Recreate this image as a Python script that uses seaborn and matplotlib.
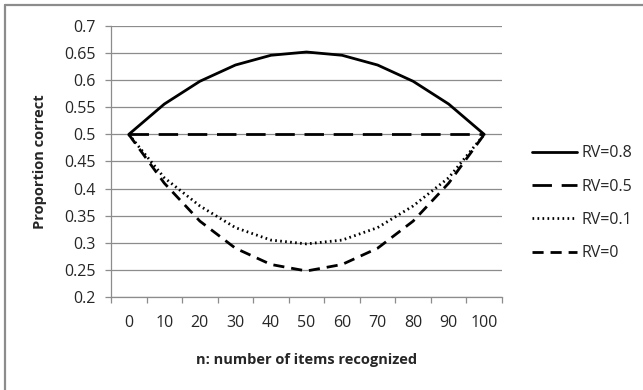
import pandas as pd
import numpy as np
import matplotlib.pyplot as plt
import seaborn as sns
from matplotlib.lines import Line2D

# items recognized (x categories)
n_items = [0, 10, 20, 30, 40, 50, 60, 70, 80, 90, 100]

# proportion correct
rv_08 = [0.5, 0.556, 0.598, 0.628, 0.646, 0.652, 0.646, 0.628, 0.598, 0.556, 0.5]
rv_05 = [0.5, 0.5, 0.5, 0.5, 0.5, 0.5, 0.5, 0.5, 0.5, 0.5, 0.5]
rv_01 = [0.5, 0.42, 0.368, 0.328, 0.305, 0.298, 0.305, 0.328, 0.368, 0.42, 0.5]
rv_00 = [0.5, 0.41, 0.34, 0.29, 0.26, 0.248, 0.26, 0.29, 0.34, 0.41, 0.5]

series_names = ['RV=0.8', 'RV=0.5', 'RV=0.1', 'RV=0']
y_ticks = [0.2, 0.25, 0.3, 0.35, 0.4, 0.45, 0.5, 0.55, 0.6, 0.65, 0.7]
y_tick_labels = ['0.2', '0.25', '0.3', '0.35', '0.4', '0.45', '0.5', '0.55', '0.6', '0.65', '0.7']

df = pd.DataFrame({
    'n': n_items * 4,
    'p': rv_08 + rv_05 + rv_01 + rv_00,
    'serie': sum([[s] * len(n_items) for s in series_names], []),
})

sns.set_style('white')
plt.rcParams['font.family'] = ['Open Sans', 'DejaVu Sans']

fig = plt.figure(figsize=(6.43, 3.90), dpi=100)
ax = fig.add_axes([111 / 643, 1 - 297 / 390, 391 / 643, 271 / 390])

dash_styles = {
    'RV=0.8': '',
    'RV=0.5': (7, 3.5),
    'RV=0.1': (0.6, 1.2),
    'RV=0': (4, 2.5),
}

sns.lineplot(data=df, x='n', y='p', hue='serie', style='serie',
             palette=['black'] * 4, dashes=dash_styles, linewidth=2,
             ax=ax, legend=False)

# grid and axes, Excel look
ax.set_xlim(-5, 105)
ax.set_ylim(0.2, 0.7)
ax.set_yticks(y_ticks)
ax.set_yticklabels(y_tick_labels)
ax.set_xticks(n_items)
ax.set_xticklabels([str(v) for v in n_items])
ax.set_xticks(np.arange(-5, 106, 10), minor=True)
ax.yaxis.grid(True, color='#8c8c8c', linewidth=0.9)
ax.set_axisbelow(True)
for side in ['top', 'right']:
    ax.spines[side].set_visible(False)
for side in ['left', 'bottom']:
    ax.spines[side].set_color('#8c8c8c')
    ax.spines[side].set_linewidth(0.9)
ax.tick_params(axis='x', which='major', length=0, pad=13, labelsize=11.5, colors='#262626')
ax.tick_params(axis='x', which='minor', bottom=True, length=4.3, width=0.9, color='#8c8c8c')
ax.tick_params(axis='y', left=True, length=4.3, width=0.9, color='#8c8c8c', pad=6.5,
               labelsize=11.5, labelcolor='#262626')

ax.set_xlabel('n: number of items recognized', fontsize=10.5, fontweight='bold', va='center')
ax.xaxis.set_label_coords(0.5, -0.232)
ax.set_ylabel('Proportion correct', fontsize=10.5, fontweight='bold', va='center')
ax.yaxis.set_label_coords(-0.182, 0.5)

handles = [Line2D([], [], color='black', linewidth=2,
                  linestyle=(0, dash_styles[s]) if dash_styles[s] else '-')
           for s in series_names]
fig.legend(handles, series_names, loc='upper left', bbox_to_anchor=(518 / 643, 1 - 131 / 390),
           frameon=False, fontsize=11.5, handlelength=2.8, handletextpad=0.25,
           labelspacing=1.08)

# chart border (only top and left visible in the crop)
fig.add_artist(Line2D([5 / 643, 5 / 643], [0, 1 - 5 / 390], transform=fig.transFigure,
                      color='#8c8c8c', linewidth=1.6))
fig.add_artist(Line2D([5 / 643, 1], [1 - 5 / 390, 1 - 5 / 390], transform=fig.transFigure,
                      color='#8c8c8c', linewidth=1.6))

fig.savefig('out.png', dpi=100)
